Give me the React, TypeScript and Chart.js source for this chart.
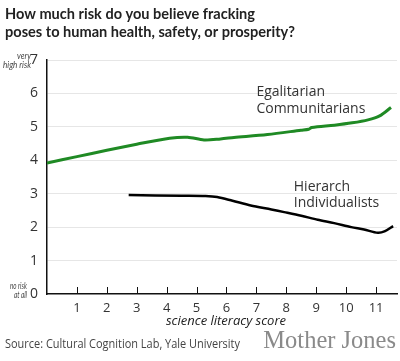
import React, { useEffect, useRef } from "react";
import { Chart, registerables } from "chart.js";

Chart.register(...registerables);

const TITLE_LINES = ["How much risk do you believe fracking", "poses to human health, safety, or prosperity?"];
const X_TICKS = [1, 2, 3, 4, 5, 6, 7, 8, 9, 10, 11];
const Y_TICKS = [0, 1, 2, 3, 4, 5, 6, 7];

const EGAL_X = [0, 1, 2, 3, 4.1, 4.7, 5.25, 5.8, 6.25, 7.37, 8.49, 8.75, 8.85, 9.61, 10.2, 10.73, 11.12, 11.5];
const EGAL_Y = [3.92, 4.11, 4.3, 4.48, 4.66, 4.69, 4.61, 4.64, 4.68, 4.77, 4.9, 4.93, 4.98, 5.05, 5.12, 5.21, 5.33, 5.58];

const HIER_X = [2.73, 4.5, 5.3, 5.69, 6.2, 6.81, 7.5, 7.93, 8.5, 9.05, 9.6, 10.17, 10.6, 11.06, 11.3, 11.57];
const HIER_Y = [2.96, 2.94, 2.93, 2.9, 2.79, 2.65, 2.53, 2.45, 2.34, 2.22, 2.12, 2.0, 1.93, 1.83, 1.88, 2.03];

const SERIES_LABELS = [["Egalitarian", "Communitarians"], ["Hierarch", "Individualists"]];
const X_TITLE = "science literacy score";
const SOURCE = "Source: Cultural Cognition Lab, Yale University";
const BRAND = "Mother Jones";

function fitText(ctx: any, text: string, x: number, y: number, width: number, alignRight = false) {
  const w = ctx.measureText(text).width;
  ctx.save();
  ctx.textAlign = "left";
  ctx.translate(alignRight ? x - width : x, y);
  ctx.scale(width / w, 1);
  ctx.fillText(text, 0, 0);
  ctx.restore();
}

const textPlugin = {
  id: "customText",
  afterDraw(chart: any) {
    const { ctx, scales } = chart;
    const xs = scales.x;
    const ys = scales.y;
    ctx.save();
    // title
    ctx.fillStyle = "#222";
    ctx.font = "bold 15.5px Lato";
    ctx.textAlign = "left";
    ctx.textBaseline = "alphabetic";
    fitText(ctx, TITLE_LINES[0], 5, 18.5, 250);
    fitText(ctx, TITLE_LINES[1], 5, 36.5, 290);

    // x tick marks inside
    ctx.strokeStyle = "#111";
    ctx.lineWidth = 1;
    const y0 = ys.getPixelForValue(0);
    X_TICKS.forEach((v) => {
      const px = Math.round(xs.getPixelForValue(v)) + 0.5;
      ctx.beginPath();
      ctx.moveTo(px, y0 - 7);
      ctx.lineTo(px, y0);
      ctx.stroke();
    });

    // y side notes
    ctx.fillStyle = "#444";
    ctx.font = "italic 10px Lato";
    const y7 = ys.getPixelForValue(7);
    fitText(ctx, "very", 31, y7 - 1, 14, true);
    fitText(ctx, "high risk", 31, y7 + 7.5, 28, true);
    fitText(ctx, "no risk", 27, y0 - 5, 17, true);
    fitText(ctx, "at all", 27, y0 + 4, 13, true);

    // x title
    ctx.fillStyle = "#222";
    ctx.font = "italic 13px 'Open Sans'";
    ctx.textAlign = "center";
    ctx.fillText(X_TITLE, (chart.chartArea.left + chart.chartArea.right) / 2 + 4, 325);

    // series labels
    ctx.fillStyle = "#333";
    ctx.font = "14px 'Open Sans'";
    ctx.textAlign = "left";
    const ex = xs.getPixelForValue(7.0);
    ctx.fillText(SERIES_LABELS[0][0], ex, 96);
    ctx.fillText(SERIES_LABELS[0][1], ex, 113.3);
    const hx = xs.getPixelForValue(8.25);
    ctx.fillText(SERIES_LABELS[1][0], hx, 190.7);
    ctx.fillText(SERIES_LABELS[1][1], hx, 207);

    // source
    ctx.fillStyle = "#444";
    ctx.font = "12px 'Open Sans'";
    fitText(ctx, SOURCE, 5, 347.5, 235);

    // brand
    ctx.fillStyle = "#8a8a8a";
    ctx.font = "24.5px 'Liberation Serif'";
    ctx.textAlign = "right";
    ctx.fillText(BRAND, 396, 348);
    ctx.restore();
  },
};

export default function App() {
  const ref = useRef<HTMLCanvasElement | null>(null);
  useEffect(() => {
    document.body.style.margin = "0";
    const canvas = ref.current;
    if (!canvas) return;
    const chart = new Chart(canvas, {
      type: "line",
      data: {
        datasets: [
          {
            label: "Egalitarian Communitarians",
            data: EGAL_X.map((x, i) => ({ x, y: EGAL_Y[i] })),
            borderColor: "#1f8a24",
            borderWidth: 3,
            pointRadius: 0,
            tension: 0.3,
            fill: false,
          },
          {
            label: "Hierarch Individualists",
            data: HIER_X.map((x, i) => ({ x, y: HIER_Y[i] })),
            borderColor: "#000",
            borderWidth: 2.5,
            pointRadius: 0,
            tension: 0.3,
            fill: false,
          },
        ],
      },
      options: {
        animation: false,
        responsive: false,
        maintainAspectRatio: false,
        layout: { padding: { top: 60, right: 3, left: 0, bottom: 0 } },
        plugins: { legend: { display: false }, tooltip: { enabled: false }, title: { display: false } },
        scales: {
          x: {
            type: "linear",
            min: 0,
            max: 11.7,
            afterBuildTicks: (s: any) => {
              s.ticks = X_TICKS.map((v) => ({ value: v }));
            },
            afterFit: (s: any) => {
              s.height = 67;
            },
            grid: { display: false, drawTicks: false },
            border: { display: true, color: "#111", width: 1.5 },
            ticks: {
              color: "#333",
              padding: 6,
              font: { family: "'Open Sans'", size: 13 },
              maxRotation: 0,
              autoSkip: false,
            },
          },
          y: {
            type: "linear",
            min: 0,
            max: 7,
            afterBuildTicks: (s: any) => {
              s.ticks = Y_TICKS.map((v) => ({ value: v }));
            },
            afterFit: (s: any) => {
              s.width = 47;
            },
            grid: {
              drawTicks: false,
              color: (c: any) => (c.tick && c.tick.value === 0 ? "transparent" : "#e6e6e6"),
              lineWidth: 1,
            },
            border: { display: true, color: "#111", width: 1.5 },
            ticks: {
              color: "#333",
              padding: 9,
              font: { family: "'Open Sans'", size: 14 },
            },
          },
        },
      },
      plugins: [textPlugin],
    });
    return () => chart.destroy();
  }, []);
  return (
    <div style={{ width: 400, height: 361 }}>
      <canvas ref={ref} width={400} height={361} style={{ display: "block" }} />
    </div>
  );
}
